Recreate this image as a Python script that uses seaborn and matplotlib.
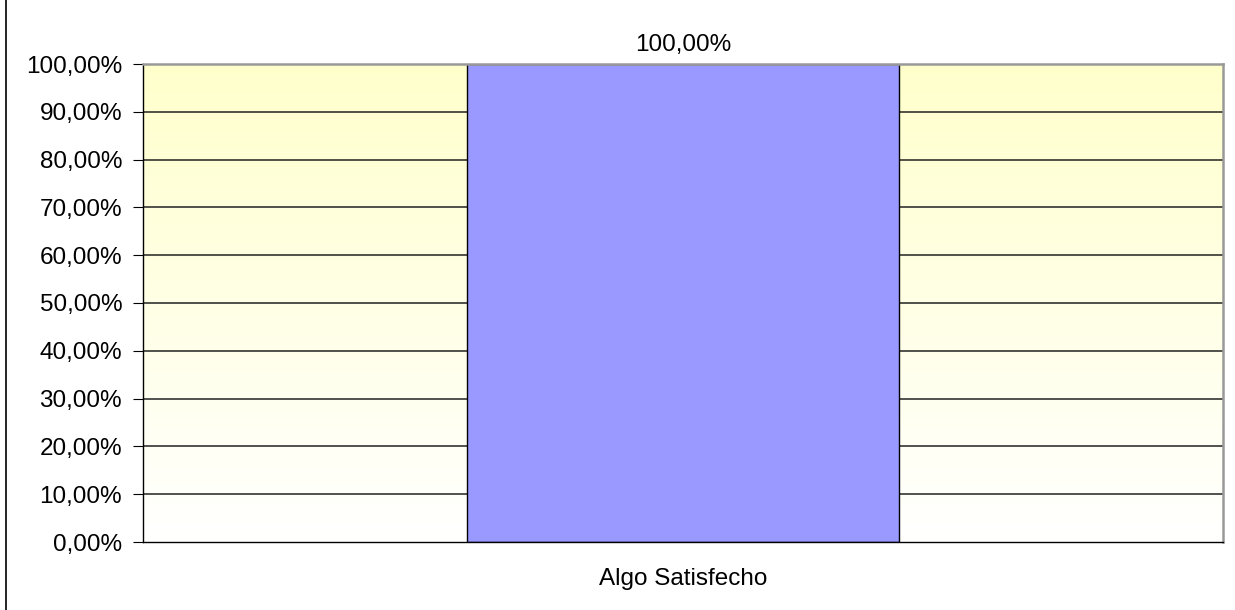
import numpy as np
import pandas as pd
import matplotlib
matplotlib.use("Agg")
import matplotlib.pyplot as plt
import seaborn as sns
from matplotlib.colors import LinearSegmentedColormap
from matplotlib.ticker import FuncFormatter

# data
categories = ["Algo Satisfecho"]
values = [100.0]

df = pd.DataFrame({"cat": categories, "pct": values})

sns.set_style("white")
plt.rcParams["font.family"] = ["Liberation Sans", "DejaVu Sans"]
plt.rcParams["text.color"] = "black"
FS = 17.5

fig = plt.figure(figsize=(12.35, 6.1), dpi=100)
ax = fig.add_axes([143 / 1235, 1 - 542 / 610, 1080 / 1235, 478 / 610])

# yellow-to-white gradient background
cmap = LinearSegmentedColormap.from_list("bg", ["#FFFFFF", "#FFFFCC"])
grad = np.linspace(0, 1, 256).reshape(-1, 1)
ax.imshow(grad, cmap=cmap, aspect="auto", origin="lower",
          extent=[-0.5, 0.5, 0, 100], zorder=0)

for y in range(10, 101, 10):
    ax.axhline(y, color="#222222", lw=1.1, zorder=1)

sns.barplot(data=df, x="cat", y="pct", color="#9999FF", width=0.4,
            edgecolor="black", linewidth=1, saturation=1, ax=ax, zorder=2)

for p, v in zip(ax.patches, values):
    ax.text(p.get_x() + p.get_width() / 2, v + 4, f"{v:.2f}%".replace(".", ","),
            ha="center", va="center", fontsize=FS, color="black", clip_on=False)

ax.set_xlim(-0.5, 0.5)
ax.set_ylim(0, 100)
ax.set_yticks(range(0, 101, 10))
ax.yaxis.set_major_formatter(FuncFormatter(lambda v, _: f"{v:.2f}%".replace(".", ",")))
ax.set_xticks([0])
ax.set_xticklabels(categories)
ax.set_xticks([-0.5, 0.5], minor=True)
ax.tick_params(axis="x", which="major", length=0, pad=19, labelsize=FS, labelcolor="black")
ax.tick_params(axis="x", which="minor", length=5, direction="out", color="black")
ax.tick_params(axis="y", length=7, direction="out", color="black", labelsize=FS,
               labelcolor="black", pad=8, left=True)
ax.set_xlabel("")
ax.set_ylabel("")

for side in ["top", "right"]:
    ax.spines[side].set_color("#999999")
    ax.spines[side].set_linewidth(1.8)
for side in ["left", "bottom"]:
    ax.spines[side].set_color("black")
    ax.spines[side].set_linewidth(1)

# chart border fragment on the left
fig.add_artist(plt.Line2D([6 / 1235, 6 / 1235], [0, 1], color="black", lw=1.2,
                          transform=fig.transFigure))

fig.savefig("out.png", dpi=100)
